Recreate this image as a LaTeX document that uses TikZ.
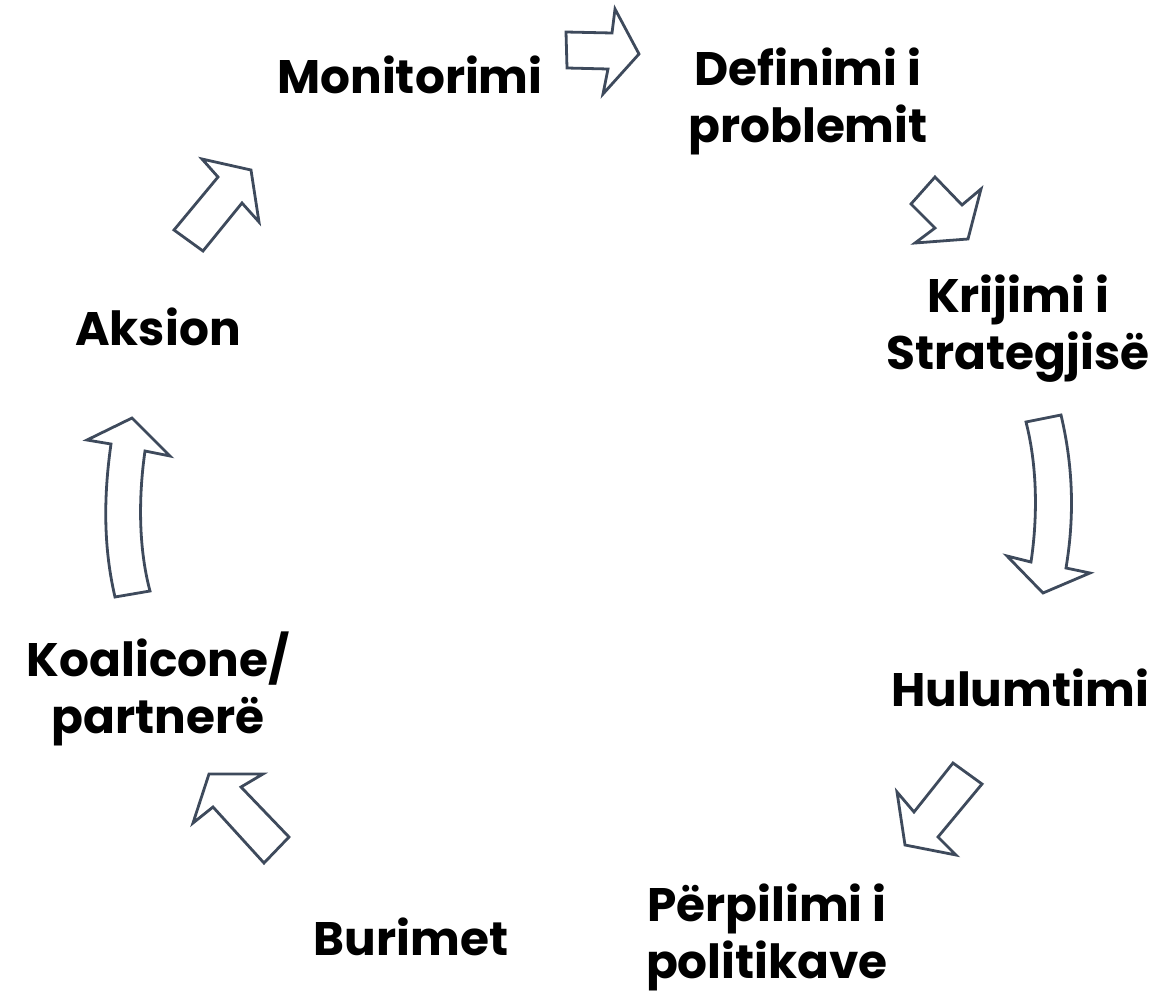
\documentclass[tikz,border=0pt]{standalone}
\usepackage{fontspec}
\setmainfont{Poppins}[BoldFont=* Bold]
\begin{document}
\begin{tikzpicture}[x=1pt,y=-1pt,
  lbl/.style={font=\fontsize{47}{57}\selectfont\bfseries, align=center, text=black, inner sep=0pt},
  blockarrow/.style={draw=arrowcol, line width=2.8pt, line join=miter, fill=white}]
\definecolor{arrowcol}{HTML}{3E4A5C}
\useasboundingbox (0,0) rectangle (1157,993);
% labels
\node[lbl] (mon) at (410,75) {Monitorimi};
\node[lbl] (def) at (808,101) {Definimi i\\problemit};
\node[lbl] (kri) at (1018,329) {Krijimi i\\Strategjisë};
\node[lbl] (hul) at (1020,688) {Hulumtimi};
\node[lbl] (per) at (767,937) {Përpilimi i\\politikave};
\node[lbl] (bur) at (411,937) {Burimet};
\node[lbl] (koa) at (158,689) {Koalicone/\\partnerë};
\node[lbl] (aks) at (158,327) {Aksion};
% arrows
\draw[blockarrow] (566,32) -- (612,33) -- (615,9) -- (639,54) -- (603,94) -- (608,69) -- (567,68) -- cycle;
\draw[blockarrow] (935,177) -- (962,205) -- (981,189) -- (968,239) -- (915,243) -- (935,228) -- (911,204) -- cycle;
\draw[blockarrow] (1026,422) -- (1061,415) .. controls (1074,470) and (1074,520) .. (1066,568) -- (1090,573) -- (1043,593) -- (1007,556) -- (1031,562) .. controls (1038,515) and (1037,465) .. (1026,422) -- cycle;
\draw[blockarrow] (953,763) -- (982,784) -- (938,837) -- (956,855) -- (905,845) -- (897,792) -- (914,812) -- cycle;
\draw[blockarrow] (209,774) -- (263,774) -- (241,787) -- (289,837) -- (264,863) -- (213,807) -- (193,823) -- cycle;
\draw[blockarrow] (132,418) -- (170,456) -- (145,451) .. controls (138,500) and (139,550) .. (150,591) -- (115,597) .. controls (104,550) and (103,500) .. (111,444) -- (87,440) -- cycle;
\draw[blockarrow] (202,159) -- (251,170) -- (259,222) -- (242,203) -- (203,251) -- (174,230) -- (218,177) -- cycle;
\end{tikzpicture}
\end{document}
